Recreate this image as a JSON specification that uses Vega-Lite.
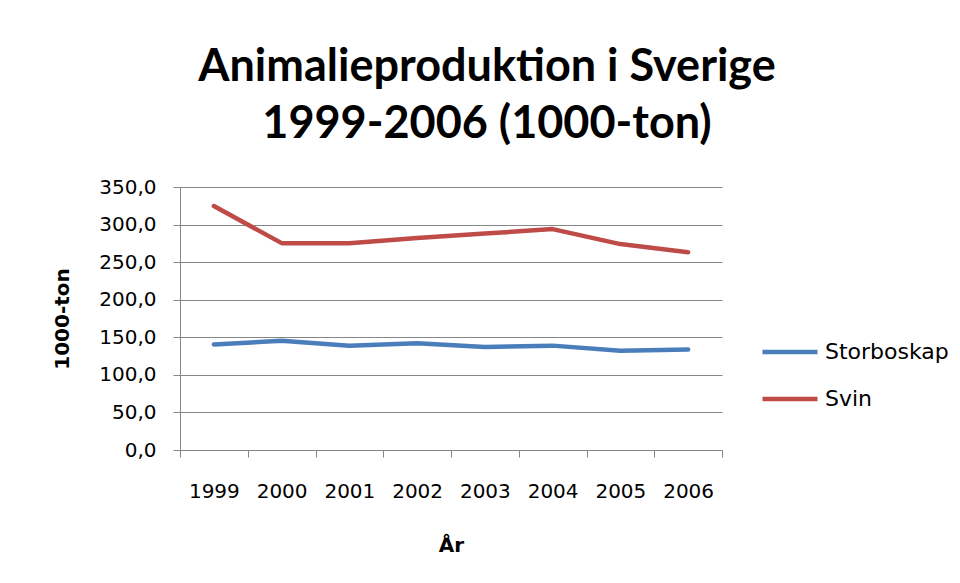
{
  "$schema": "https://vega.github.io/schema/vega-lite/v6.json",
  "autosize": {"type": "none"},
  "padding": {"left": 180, "top": 187, "right": 238, "bottom": 133},
  "width": 542,
  "height": 263,
  "background": "white",
  "title": {
    "text": ["Animalieproduktion i Sverige", "1999-2006 (1000-ton)"],
    "font": "Lato",
    "fontSize": 45,
    "fontWeight": "bold",
    "color": "black",
    "lineHeight": 57,
    "anchor": "middle",
    "dx": 36,
    "offset": 30
  },
  "data": {
    "values": [
      {"year": "1999", "serie": "Storboskap", "value": 140.4},
      {"year": "2000", "serie": "Storboskap", "value": 145.3},
      {"year": "2001", "serie": "Storboskap", "value": 138.6},
      {"year": "2002", "serie": "Storboskap", "value": 142.1},
      {"year": "2003", "serie": "Storboskap", "value": 137.2},
      {"year": "2004", "serie": "Storboskap", "value": 138.9},
      {"year": "2005", "serie": "Storboskap", "value": 132.1},
      {"year": "2006", "serie": "Storboskap", "value": 133.7},
      {"year": "1999", "serie": "Svin", "value": 324.7},
      {"year": "2000", "serie": "Svin", "value": 275.3},
      {"year": "2001", "serie": "Svin", "value": 275.3},
      {"year": "2002", "serie": "Svin", "value": 282.0},
      {"year": "2003", "serie": "Svin", "value": 288.0},
      {"year": "2004", "serie": "Svin", "value": 294.0},
      {"year": "2005", "serie": "Svin", "value": 274.0},
      {"year": "2006", "serie": "Svin", "value": 263.2}
    ]
  },
  "mark": {"type": "line", "strokeWidth": 4.5, "strokeCap": "round", "strokeJoin": "round"},
  "encoding": {
    "x": {
      "field": "year",
      "type": "ordinal",
      "scale": {"type": "band", "paddingInner": 0, "paddingOuter": 0},
      "axis": {
        "title": "År",
        "titleFont": "DejaVu Sans",
        "titleFontSize": 20,
        "titleFontWeight": "bold",
        "titleColor": "black",
        "titlePadding": 34,
        "labelAngle": 0,
        "labelFont": "DejaVu Sans",
        "labelFontSize": 20,
        "labelColor": "black",
        "labelPadding": 24,
        "tickBand": "extent",
        "tickSize": 7,
        "tickColor": "#868686",
        "domainColor": "#868686",
        "grid": false
      }
    },
    "y": {
      "field": "value",
      "type": "quantitative",
      "scale": {"domain": [0, 350], "nice": false},
      "axis": {
        "title": "1000-ton",
        "titleFont": "DejaVu Sans",
        "titleFontSize": 20,
        "titleFontWeight": "bold",
        "titleColor": "black",
        "titlePadding": 26,
        "values": [0, 50, 100, 150, 200, 250, 300, 350],
        "labelExpr": "replace(format(datum.value, '.1f'), '.', ',')",
        "labelFont": "DejaVu Sans",
        "labelFontSize": 20,
        "labelColor": "black",
        "labelPadding": 17,
        "tickSize": 7,
        "tickColor": "#868686",
        "domainColor": "#868686",
        "gridColor": "#868686",
        "gridOpacity": 1,
        "gridWidth": 1
      }
    },
    "color": {
      "field": "serie",
      "type": "nominal",
      "scale": {"domain": ["Storboskap", "Svin"], "range": ["#4A7EBB", "#BE4B48"]},
      "legend": {
        "title": null,
        "orient": "none",
        "legendX": 580,
        "legendY": 135,
        "symbolType": "stroke",
        "symbolSize": 3025,
        "symbolStrokeWidth": 4.5,
        "labelFont": "DejaVu Sans",
        "labelFontSize": 22,
        "labelColor": "black",
        "labelOffset": 5,
        "rowPadding": 6
      }
    }
  },
  "config": {
    "view": {"stroke": null}
  }
}
